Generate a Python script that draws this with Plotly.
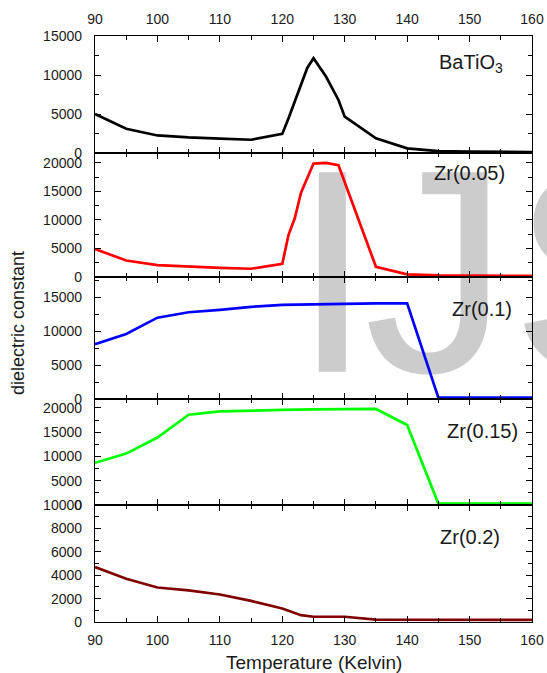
import plotly.graph_objects as go

# ---------------- data ----------------
temp_bt = [90, 95, 100, 105, 110, 115, 120, 121, 124, 125, 127, 129, 130, 135, 140, 145, 150, 155, 160]
eps_bt = [5000, 3100, 2250, 2000, 1850, 1700, 2450, 4450, 10900, 12150, 9800, 6800, 4650, 1880, 600, 250, 180, 150, 130]

temp_zr005 = [90, 95, 100, 105, 110, 115, 120, 121, 122, 123, 125, 127, 129, 135, 140, 145, 150, 155, 160]
eps_zr005 = [4900, 2900, 2100, 1800, 1600, 1450, 2300, 7400, 10300, 14800, 19900, 20000, 19600, 1800, 450, 280, 220, 200, 180]

temp_zr01 = [90, 95, 100, 105, 110, 115, 120, 125, 130, 135, 140, 145, 150, 155, 160]
eps_zr01 = [8100, 9600, 12000, 12800, 13150, 13600, 13900, 14000, 14050, 14100, 14100, 200, 200, 200, 200]

temp_zr015 = [90, 95, 100, 105, 110, 115, 120, 125, 130, 135, 140, 145, 150, 155, 160]
eps_zr015 = [8700, 10600, 13900, 18600, 19300, 19500, 19600, 19700, 19700, 19800, 16500, 300, 300, 300, 300]

temp_zr02 = [90, 95, 100, 105, 110, 115, 120, 121, 122, 123, 125, 130, 135, 140, 145, 150, 155, 160]
eps_zr02 = [4700, 3700, 2950, 2700, 2350, 1800, 1150, 950, 800, 580, 450, 450, 200, 180, 180, 180, 180, 180]

panel_labels = ["BaTiO<sub>3</sub>", "Zr(0.05)", "Zr(0.1)", "Zr(0.15)", "Zr(0.2)"]
x_title = "Temperature (Kelvin)"
y_title = "dielectric constant"
watermark_letters = ["I", "J", "S"]

# ---------------- layout geometry (pixels) ----------------
W, H = 547, 673
L, R, T, B = 95, 532, 36, 622
bounds = [36, 153, 277, 399, 505, 622]


def fx(px):
    return (px - L) / (R - L)


def fy(py):
    return (B - py) / (B - T)


FONT = "Liberation Sans, Arial, sans-serif"
TXT = "#1a1a1a"
WM_SIZE = 290
# origin x and baseline y (pixels) of each watermark letter
wm_pos = [(292, 371.7), (364, 371.7), (511, 371.7)]

panels = [
    dict(x=temp_bt, y=eps_bt, color="#000000", yr=[0, 15000], dt=5000, mdt=2500, lx=437, ly=63),
    dict(x=temp_zr005, y=eps_zr005, color="#ff0000", yr=[0, 21750], dt=5000, mdt=2500, lx=432, ly=173),
    dict(x=temp_zr01, y=eps_zr01, color="#0000ff", yr=[0, 18000], dt=5000, mdt=2500, lx=450, ly=309),
    dict(x=temp_zr015, y=eps_zr015, color="#00ff00", yr=[0, 21850], dt=5000, mdt=2500, lx=445, ly=431),
    dict(x=temp_zr02, y=eps_zr02, color="#800000", yr=[0, 10000], dt=2000, mdt=1000, lx=438, ly=537),
]

fig = go.Figure()

# watermark (drawn first, underneath the curves)
for letter, (ox, base) in zip(watermark_letters, wm_pos):
    fig.add_trace(go.Scatter(
        x=[ox], y=[base - 0.75 * WM_SIZE], mode="text", text=[letter], textposition="bottom right",
        textfont=dict(family=FONT, size=WM_SIZE, color="#cccccc"),
        xaxis="x", yaxis="y", hoverinfo="skip", showlegend=False, cliponaxis=False,
    ))

layout = dict(
    width=W, height=H,
    margin=dict(l=L, r=W - R, t=T, b=H - B, pad=0, autoexpand=False),
    paper_bgcolor="white", plot_bgcolor="rgba(0,0,0,0)",
    showlegend=False,
    xaxis=dict(domain=[0, 1], range=[L, R], visible=False, fixedrange=True, automargin=False),
    yaxis=dict(domain=[0, 1], range=[B, T], visible=False, fixedrange=True, automargin=False),
)

annotations = []
for i, p in enumerate(panels):
    n = i + 2
    fig.add_trace(go.Scatter(
        x=p["x"], y=p["y"], mode="lines", xaxis=f"x{n}", yaxis=f"y{n}",
        line=dict(color=p["color"], width=2.7), hoverinfo="skip", showlegend=False,
    ))
    top, bot = bounds[i], bounds[i + 1]
    layout[f"xaxis{n}"] = dict(
        domain=[0, 1], anchor=f"y{n}", range=[90, 160], tick0=90, dtick=10,
        ticks="inside", ticklen=6, tickwidth=1.2, tickcolor="black",
        minor=dict(tick0=90, dtick=5, ticks="inside", ticklen=3.5, tickwidth=1.2, tickcolor="black"),
        showline=True, linecolor="black", linewidth=1.3, mirror="ticks",
        showgrid=False, zeroline=False, automargin=False,
        showticklabels=(i in (0, 4)), side="top" if i == 0 else "bottom",
        tickfont=dict(family=FONT, size=14, color=TXT), ticklabelstandoff=5,
    )
    layout[f"yaxis{n}"] = dict(
        domain=[fy(bot), fy(top)], anchor=f"x{n}", range=p["yr"], tick0=0, dtick=p["dt"],
        ticks="inside", ticklen=6, tickwidth=1.2, tickcolor="black",
        minor=dict(tick0=0, dtick=p["mdt"], ticks="inside", ticklen=3.5, tickwidth=1.2, tickcolor="black"),
        showline=True, linecolor="black", linewidth=1.3, mirror="ticks",
        showgrid=False, zeroline=False, automargin=False,
        tickformat="d", exponentformat="none", separatethousands=False,
        tickfont=dict(family=FONT, size=14, color=TXT), ticklabelstandoff=9,
    )
    annotations.append(dict(
        text=panel_labels[i], xref="paper", yref="paper", x=fx(p["lx"]), y=fy(p["ly"]),
        xanchor="left", yanchor="middle", showarrow=False,
        font=dict(family=FONT, size=20, color=TXT),
    ))

annotations.append(dict(
    text=x_title, xref="paper", yref="paper", x=fx(314), y=fy(662),
    xanchor="center", yanchor="middle", showarrow=False,
    font=dict(family=FONT, size=19, color=TXT),
))
annotations.append(dict(
    text=y_title, xref="paper", yref="paper", x=fx(18), y=fy(323),
    xanchor="center", yanchor="middle", showarrow=False, textangle=-90,
    font=dict(family=FONT, size=18, color=TXT),
))
layout["annotations"] = annotations

fig.update_layout(**layout)
fig.write_html("out.html")
